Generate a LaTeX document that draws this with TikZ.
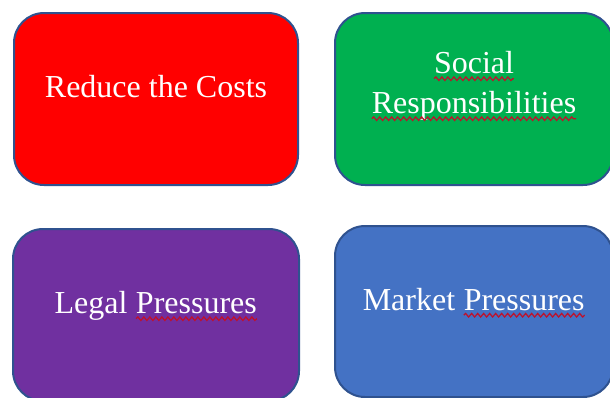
\documentclass[tikz,border=0pt]{standalone}
\usepackage{fontspec}
\setmainfont{Liberation Serif}
\usetikzlibrary{positioning,decorations.pathmorphing}

\definecolor{costred}{HTML}{FF0000}
\definecolor{socialgreen}{HTML}{00B050}
\definecolor{legalpurple}{HTML}{7030A0}
\definecolor{marketblue}{HTML}{4472C4}
\definecolor{cardborder}{HTML}{2F528F}
\definecolor{spellred}{HTML}{C0102A}

% red wavy line under a word
\newcommand{\spellchk}[1]{\tikz[baseline=(w.base)]{\node[inner sep=0pt,outer sep=0pt,text=white] (w) {#1};
  \draw[wave] ([yshift=-2.6pt]w.base west) -- ([yshift=-2.6pt]w.base east);}}

\begin{document}
\begin{tikzpicture}[node distance=18.5pt and 20.5pt,
  card/.style={rectangle,rounded corners=15pt,draw=cardborder,line width=1pt,
    minimum width=142pt,minimum height=86pt},
  label/.style={anchor=base,text=white,font=\fontsize{16pt}{20pt}\selectfont,align=center},
  wave/.style={draw=spellred,line width=0.6pt,decorate,
    decoration={snake,amplitude=0.9pt,segment length=3pt}}]
   \useasboundingbox (0,0) rectangle (305pt,-198.5pt);
   \node[card,fill=costred] (costs) at (78pt,-49.5pt) {};
   \node[card,fill=socialgreen,minimum width=139pt] (social) [right=17.5pt of costs] {};
   \node[card,fill=legalpurple,minimum width=143pt] (legal) [below=21pt of costs] {};
   \node[card,fill=marketblue,minimum width=139pt,minimum height=85.5pt] (market) [below=19.5pt of social] {};

   \node[label] (costs text) at ([yshift=0.75pt]costs.center) {Reduce the Costs};
   \node[label] (social text) at ([yshift=-7.25pt]social.center) {\spellchk{Social}\\\spellchk{Responsibilities}};
   \node[label] (legal text) at ([yshift=0.75pt]legal.center) {Legal \spellchk{Pressures}};
   \node[label] (market text) at ([yshift=0.75pt]market.center) {Market \spellchk{Pressures}};
\end{tikzpicture}
\end{document}
